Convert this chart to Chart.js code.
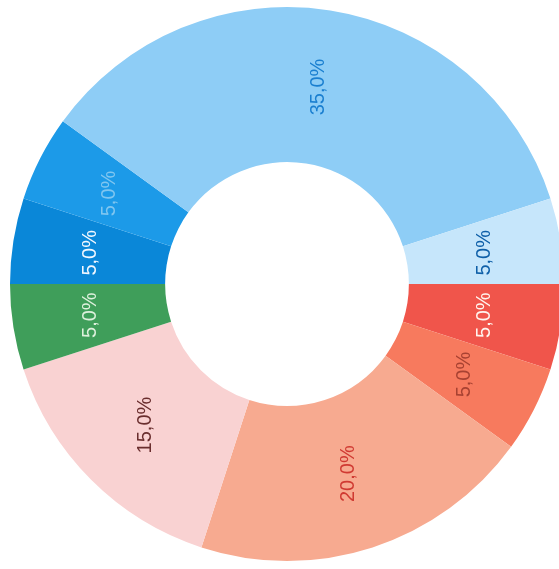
<!DOCTYPE html>
<html>
<head>
<meta charset="utf-8">
<script src="https://cdn.jsdelivr.net/npm/chart.js@4/dist/chart.umd.min.js"></script>
<style>
  html, body { margin: 0; padding: 0; background: #ffffff; overflow: hidden; }
  #wrap { position: relative; width: 564px; height: 569px; }
</style>
</head>
<body>
<div id="wrap"><canvas id="c"></canvas></div>
<script>
// Data (clockwise from 3 o'clock)
const categories = ['Red', 'Orange', 'Salmon', 'Pink', 'Green', 'Blue', 'Mid blue', 'Light blue', 'Pale blue'];
const values = [5, 5, 20, 15, 5, 5, 5, 35, 5];
const sliceColors = ['#F0554B', '#F77A5E', '#F7AA90', '#F9D2D2', '#3F9E5A', '#0A87D8', '#1C9AE8', '#8ECDF6', '#C6E6FB'];
const labelColors = ['#FFF4EE', '#A84232', '#D03A32', '#6A2E2E', '#DDF0DC', '#F2F8FF', '#80C6F0', '#1A7FD0', '#0E5FA8'];

const total = values.reduce((a, b) => a + b, 0);
const percentLabels = values.map(v => (v / total * 100).toFixed(1).replace('.', ',') + '%');

const rotatedLabels = {
  id: 'rotatedLabels',
  afterDatasetsDraw(chart) {
    const ctx = chart.ctx;
    const meta = chart.getDatasetMeta(0);
    meta.data.forEach((arc, i) => {
      const p = arc.getProps(['x', 'y', 'startAngle', 'endAngle', 'innerRadius', 'outerRadius'], true);
      const a = (p.startAngle + p.endAngle) / 2;
      const r = (p.innerRadius + p.outerRadius) / 2;
      ctx.save();
      ctx.translate(p.x + Math.cos(a) * r, p.y + Math.sin(a) * r);
      ctx.rotate(-Math.PI / 2);
      ctx.font = '20px "Liberation Sans", Arial, sans-serif';
      ctx.fillStyle = labelColors[i];
      ctx.textAlign = 'center';
      ctx.textBaseline = 'middle';
      ctx.fillText(percentLabels[i], 0, 0);
      ctx.restore();
    });
  }
};

new Chart(document.getElementById('c'), {
  type: 'doughnut',
  data: {
    labels: categories,
    datasets: [{
      data: values,
      backgroundColor: sliceColors,
      borderWidth: 0
    }]
  },
  options: {
    responsive: true,
    maintainAspectRatio: false,
    animation: false,
    rotation: 90,
    cutout: '44%',
    layout: { padding: { left: 10, right: 0, top: 7, bottom: 8 } },
    plugins: {
      legend: { display: false },
      tooltip: { enabled: false }
    }
  },
  plugins: [rotatedLabels]
});
</script>
</body>
</html>
